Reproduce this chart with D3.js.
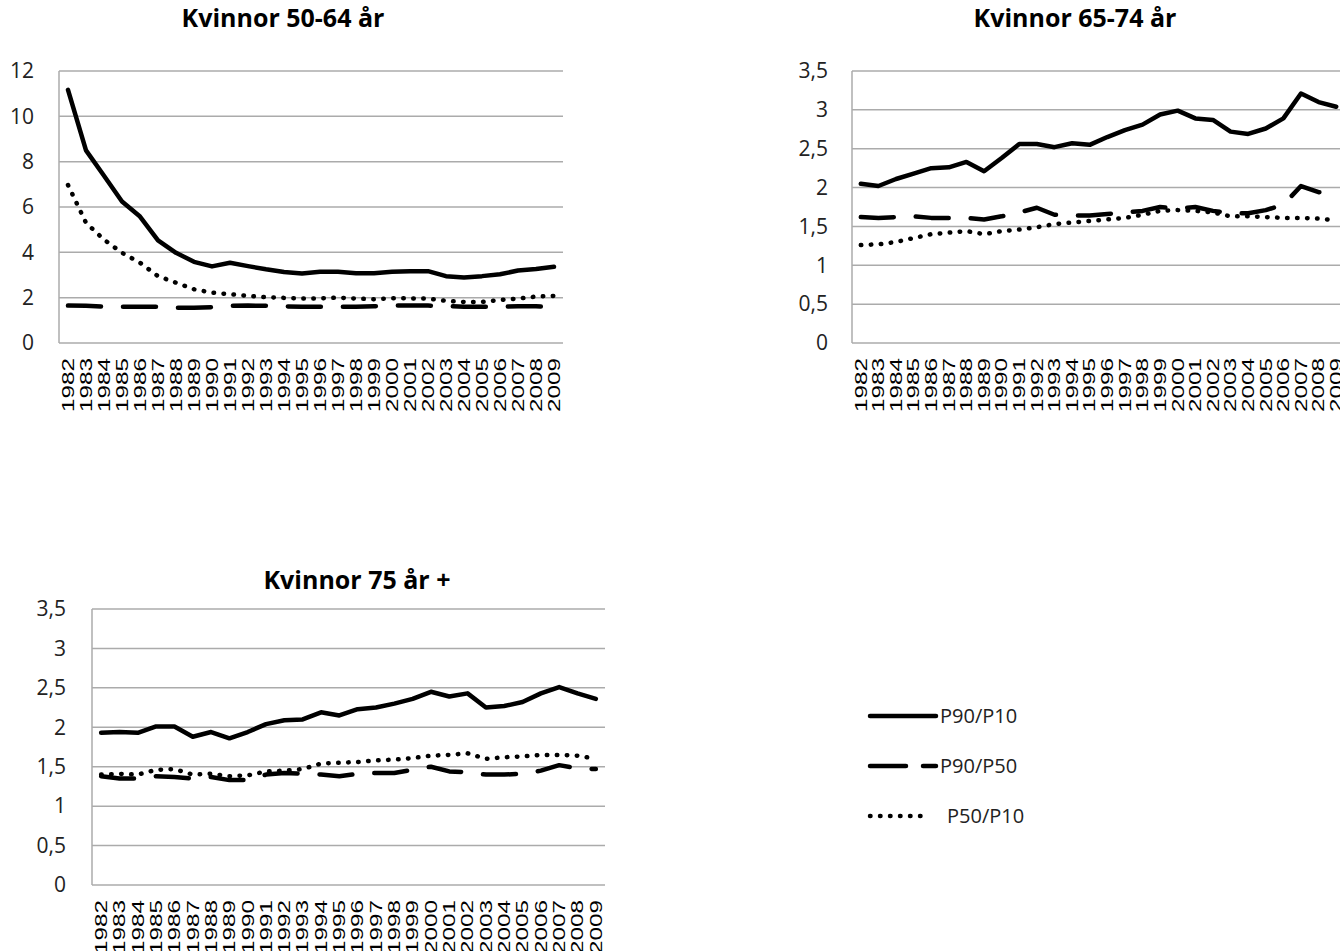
<!DOCTYPE html>
<html>
<head>
<meta charset="utf-8">
<script src="https://cdn.jsdelivr.net/npm/d3@7"></script>
<style>
  body { margin: 0; background: #fff; }
  svg { display: block; }
</style>
</head>
<body>
<svg width="1340" height="951"></svg>
<script>
var years = ["1982","1983","1984","1985","1986","1987","1988","1989","1990","1991","1992","1993","1994","1995",
             "1996","1997","1998","1999","2000","2001","2002","2003","2004","2005","2006","2007","2008","2009"];

var seriesNames = ["P90/P10", "P90/P50", "P50/P10"];

// Kvinnor 50-64 år
var k5064_p90p10 = [11.17,8.5,7.38,6.24,5.58,4.53,3.98,3.58,3.38,3.54,3.39,3.25,3.13,3.07,3.14,3.14,3.08,3.08,3.14,3.17,3.17,2.95,2.89,2.95,3.03,3.2,3.26,3.36];
var k5064_p90p50 = [1.65,1.64,1.61,1.6,1.6,1.6,1.55,1.55,1.58,1.64,1.65,1.64,1.62,1.6,1.6,1.6,1.6,1.62,1.65,1.65,1.65,1.63,1.6,1.6,1.6,1.62,1.62,1.58];
var k5064_p50p10 = [6.97,5.3,4.56,3.98,3.54,2.95,2.66,2.37,2.22,2.15,2.08,2.02,1.99,1.96,1.97,2.0,1.96,1.93,1.97,1.97,1.96,1.86,1.81,1.81,1.9,1.96,2.05,2.08];

// Kvinnor 65-74 år
var k6574_p90p10 = [2.05,2.02,2.11,2.18,2.25,2.26,2.33,2.21,2.38,2.56,2.56,2.52,2.57,2.55,2.65,2.74,2.81,2.94,2.99,2.89,2.87,2.72,2.69,2.76,2.89,3.21,3.1,3.04];
var k6574_p90p50 = [1.62,1.61,1.62,1.63,1.61,1.61,1.61,1.59,1.63,1.68,1.74,1.65,1.64,1.64,1.66,1.68,1.7,1.75,1.73,1.75,1.7,1.67,1.67,1.71,1.78,2.02,1.94,1.93];
var k6574_p50p10 = [1.26,1.27,1.3,1.35,1.4,1.42,1.44,1.4,1.44,1.46,1.49,1.53,1.55,1.57,1.59,1.61,1.65,1.7,1.71,1.7,1.68,1.63,1.63,1.62,1.61,1.61,1.6,1.58];

// Kvinnor 75 år +
var k75_p90p10 = [1.93,1.94,1.93,2.01,2.01,1.88,1.94,1.86,1.94,2.04,2.09,2.1,2.19,2.15,2.23,2.25,2.3,2.36,2.45,2.39,2.43,2.25,2.27,2.32,2.43,2.51,2.43,2.36];
var k75_p90p50 = [1.38,1.35,1.35,1.38,1.37,1.35,1.37,1.33,1.33,1.4,1.42,1.41,1.4,1.38,1.41,1.42,1.42,1.46,1.5,1.44,1.43,1.4,1.4,1.41,1.45,1.52,1.48,1.47];
var k75_p50p10 = [1.4,1.41,1.4,1.46,1.47,1.4,1.41,1.38,1.39,1.44,1.45,1.47,1.54,1.55,1.56,1.58,1.59,1.61,1.64,1.65,1.67,1.6,1.62,1.63,1.65,1.65,1.64,1.6];

var ticks5064 = [0,2,4,6,8,10,12];
var ticksOld = [0,0.5,1,1.5,2,2.5,3,3.5];

var svg = d3.select("svg");
var grey = "#ababab";
var fontText = "'Open Sans', 'Liberation Sans', sans-serif";

var sv = d3.formatLocale({decimal: ",", thousands: "\u00a0", grouping: [3], currency: ["", " kr"]});
var fmt = sv.format("~g");

var styles = [
  {dash: null, width: 4.5, cap: "round"},
  {dash: "33,22", width: 4.5, cap: "round"},
  {dash: "0.5,9.5", width: 4.5, cap: "round"}
];

var panels = [
  {title: "Kvinnor 50-64 år", series: [k5064_p90p10, k5064_p90p50, k5064_p50p10], ticks: ticks5064,
   left: 59, right: 563, top: 71, bottom: 343, titleX: 283, titleY: 27, labelX: 34},
  {title: "Kvinnor 65-74 år", series: [k6574_p90p10, k6574_p90p50, k6574_p50p10], ticks: ticksOld,
   left: 852, right: 1345, top: 71, bottom: 343, titleX: 1075, titleY: 27, labelX: 828},
  {title: "Kvinnor 75 år +", series: [k75_p90p10, k75_p90p50, k75_p50p10], ticks: ticksOld,
   left: 92, right: 605, top: 609, bottom: 885, titleX: 357, titleY: 589, labelX: 66}
];

panels.forEach(function(p) {
  var x = d3.scaleBand().domain(years).range([p.left, p.right]);
  var y = d3.scaleLinear().domain(d3.extent(p.ticks)).range([p.bottom, p.top]);
  var g = svg.append("g");

  // title
  g.append("text")
      .attr("x", p.titleX)
      .attr("y", p.titleY)
      .attr("text-anchor", "middle")
      .attr("font-family", fontText)
      .attr("font-weight", "bold")
      .attr("font-size", 25)
      .text(p.title);

  // gridlines
  g.selectAll(".grid").data(p.ticks.filter(function(t) { return t > 0; }))
    .enter().append("line")
      .attr("x1", p.left).attr("x2", p.right)
      .attr("y1", function(d) { return y(d); })
      .attr("y2", function(d) { return y(d); })
      .attr("stroke", grey).attr("stroke-width", 1.5);

  // axes lines
  g.append("line").attr("x1", p.left).attr("x2", p.left).attr("y1", p.top).attr("y2", p.bottom)
      .attr("stroke", grey).attr("stroke-width", 1.5);
  g.append("line").attr("x1", p.left).attr("x2", p.right).attr("y1", p.bottom).attr("y2", p.bottom)
      .attr("stroke", grey).attr("stroke-width", 1.5);

  // y tick labels
  g.selectAll(".ylab").data(p.ticks)
    .enter().append("text")
      .attr("x", p.labelX)
      .attr("y", function(d) { return y(d); })
      .attr("dy", "0.35em")
      .attr("text-anchor", "end")
      .attr("font-family", fontText)
      .attr("font-size", 21)
      .attr("fill", "#222")
      .text(function(d) { return fmt(d); });

  // x tick labels (rotated, stretched like the original)
  g.selectAll(".xlab").data(years)
    .enter().append("text")
      .attr("transform", function(d) {
        return "translate(" + (x(d) + x.bandwidth() / 2) + "," + (p.bottom + 15) + ") rotate(-90) scale(1.52,1)";
      })
      .attr("dy", "0.36em")
      .attr("text-anchor", "end")
      .attr("font-family", "'Liberation Sans', Arial, sans-serif")
      .attr("font-size", 16)
      .text(function(d) { return d; });

  // lines
  p.series.forEach(function(vals, i) {
    var line = d3.line()
        .x(function(d, j) { return x(years[j]) + x.bandwidth() / 2; })
        .y(function(d) { return y(d); });
    g.append("path")
        .datum(vals)
        .attr("fill", "none")
        .attr("stroke", "#000")
        .attr("stroke-width", styles[i].width)
        .attr("stroke-linejoin", "round")
        .attr("stroke-linecap", styles[i].cap)
        .attr("stroke-dasharray", styles[i].dash)
        .attr("d", line);
  });
});

// legend
var legendY = [716, 766, 816];
var legendDash = [null, "36,17", "0.5,9.5"];
var legendEnd = [936, 936, 928];
var legend = svg.append("g");
seriesNames.forEach(function(name, i) {
  legend.append("line")
      .attr("x1", 870).attr("x2", legendEnd[i])
      .attr("y1", legendY[i]).attr("y2", legendY[i])
      .attr("stroke", "#000").attr("stroke-width", 4.5)
      .attr("stroke-linecap", "round")
      .attr("stroke-dasharray", legendDash[i]);
  legend.append("text")
      .attr("x", i === 2 ? 947 : 940)
      .attr("y", legendY[i])
      .attr("dy", "0.35em")
      .attr("font-family", fontText)
      .attr("font-size", 20)
      .attr("fill", "#222")
      .text(name);
});
</script>
</body>
</html>
